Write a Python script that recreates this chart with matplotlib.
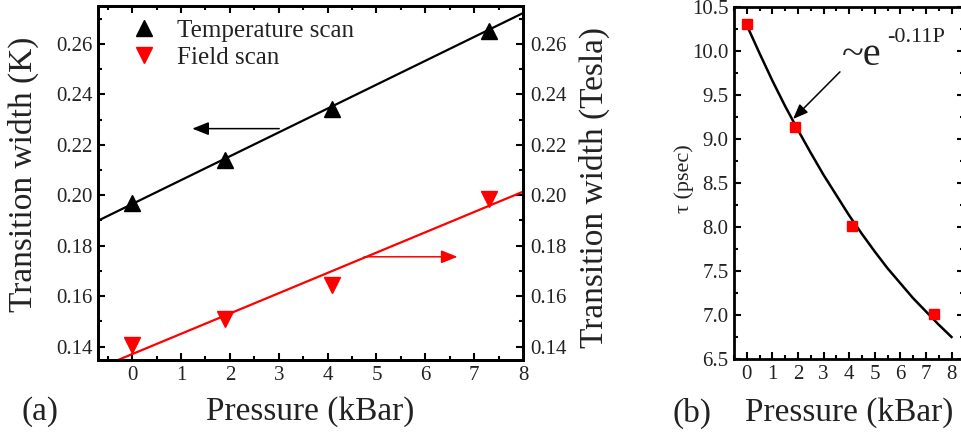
import matplotlib
matplotlib.use('Agg')
import matplotlib.pyplot as plt
from matplotlib.ticker import MultipleLocator

plt.rcParams['font.family'] = ['Liberation Serif', 'DejaVu Serif']
plt.rcParams['mathtext.fontset'] = 'stix'

txt_color = '#222222'

# panel (a) data
pressure = [0.0, 1.9, 4.1, 7.3]
temp_width = [0.197, 0.214, 0.234, 0.265]     # K
field_width = [0.1405, 0.1508, 0.1645, 0.1985]  # Tesla
# straight fit lines, end points
fit_x = [-0.7, 8.0]
temp_fit = [0.1899, 0.2722]
field_fit = [0.1314, 0.2014]

# panel (b) data
tau_p = [0.0, 1.9, 4.1, 7.3]
tau = [10.30, 9.13, 8.01, 7.01]
# fitted curve
curve_p = [0.0, 0.5, 1.0, 1.5, 2.0, 2.5, 3.0, 3.5, 4.0, 4.5, 5.0, 5.5, 6.0, 6.5, 7.0, 7.5, 8.0]
curve_tau = [10.29, 9.97, 9.66, 9.37, 9.10, 8.84, 8.59, 8.36, 8.13, 7.92, 7.72, 7.53, 7.36, 7.19, 7.04, 6.89, 6.75]

W, H = 961, 441
fig = plt.figure(figsize=(W / 100, H / 100), dpi=100)

def fx(px):
    return px / W

def fy(py):
    return 1 - py / H

def style_axis(ax, top=True, right=True):
    for s in ax.spines.values():
        s.set_linewidth(2)
    ax.tick_params(which='both', direction='in', top=top, right=right,
                   width=1.5, labelsize=15, labelcolor=txt_color, pad=4)
    ax.tick_params(which='major', length=5)
    ax.tick_params(which='minor', length=3)

# ---------------- panel (a) ----------------
ax = fig.add_axes([fx(98), fy(360), fx(523 - 98), (360 - 6) / H])
ax.plot(fit_x, temp_fit, color='black', lw=1.6)
ax.plot(pressure, temp_width, '^', color='black', ms=11, label='Temperature scan')
ax.set_xlim(-0.7, 8)
ax.set_ylim(0.1347, 0.275)
ax.xaxis.set_major_locator(MultipleLocator(1))
ax.xaxis.set_minor_locator(MultipleLocator(0.5))
ax.yaxis.set_major_locator(MultipleLocator(0.02))
ax.yaxis.set_minor_locator(MultipleLocator(0.01))
ax.yaxis.set_major_formatter(matplotlib.ticker.FormatStrFormatter('%.2f'))
style_axis(ax, top=True, right=False)
ax.set_xticks([0, 1, 2, 3, 4, 5, 6, 7])

ax2 = ax.twinx()
ax2.plot(fit_x, field_fit, color='red', lw=1.6)
ax2.plot(pressure, field_width, 'v', color='red', ms=11, label='Field scan')
ax2.set_ylim(0.1347, 0.275)
ax2.yaxis.set_major_locator(MultipleLocator(0.02))
ax2.yaxis.set_minor_locator(MultipleLocator(0.01))
ax2.yaxis.set_major_formatter(matplotlib.ticker.FormatStrFormatter('%.2f'))
style_axis(ax2, top=False, right=True)
ax2.tick_params(pad=5)

# the "8" tick label at the right end
fig.text(fx(523), fy(376), '8', ha='center', va='center', fontsize=15, color=txt_color)

# arrows telling which axis
ax.annotate('', xy=(1.23, 0.2264), xytext=(3.01, 0.2264),
            arrowprops=dict(arrowstyle='-|>,head_length=0.5,head_width=0.2',
                            color='black', lw=1.1, mutation_scale=20,
                            shrinkA=0, shrinkB=0))
ax.annotate('', xy=(6.66, 0.1756), xytext=(4.75, 0.1756),
            arrowprops=dict(arrowstyle='-|>,head_length=0.5,head_width=0.2',
                            color='red', lw=1.1, mutation_scale=20,
                            shrinkA=0, shrinkB=0))

h1, l1 = ax.get_legend_handles_labels()
h2, l2 = ax2.get_legend_handles_labels()
leg = ax2.legend(h1 + h2, l1 + l2, loc='upper left', bbox_to_anchor=(0.073, 0.962),
                 frameon=False, fontsize=18, handlelength=1.2, handletextpad=0.7,
                 labelspacing=0.18, borderpad=0, borderaxespad=0)
for t in leg.get_texts():
    t.set_color(txt_color)

fig.text(fx(23.5), fy(174.5), 'Transition width (K)', rotation=90,
         ha='center', va='center', fontsize=24, color=txt_color)
fig.text(fx(594.5), fy(187.5), 'Transition width (Tesla)', rotation=90,
         ha='center', va='center', fontsize=24, color=txt_color)
fig.text(fx(310), fy(412), 'Pressure (kBar)', ha='center', va='center',
         fontsize=24, color=txt_color)
fig.text(fx(40), fy(412), '(a)', ha='center', va='center', fontsize=24, color=txt_color)

# ---------------- panel (b) ----------------
bx = fig.add_axes([fx(734), fy(359), fx(964.3 - 734), (359 - 6.7) / H])
bx.plot(curve_p, curve_tau, color='black', lw=1.8)
bx.plot(tau_p, tau, 's', color='red', ms=7)
bx.set_xlim(-0.5, 8.5)
bx.set_ylim(6.5, 10.5)
bx.xaxis.set_major_locator(MultipleLocator(1))
bx.xaxis.set_minor_locator(MultipleLocator(0.5))
bx.yaxis.set_major_locator(MultipleLocator(0.5))
bx.yaxis.set_minor_locator(MultipleLocator(0.25))
bx.yaxis.set_major_formatter(matplotlib.ticker.FormatStrFormatter('%.1f'))
style_axis(bx, top=True, right=True)
bx.set_xticks([0, 1, 2, 3, 4, 5, 6, 7, 8])

bx.annotate('', xy=(1.81, 9.225), xytext=(3.64, 9.76),
            arrowprops=dict(arrowstyle='-|>,head_length=0.5,head_width=0.2',
                            color='black', lw=1.1, mutation_scale=18,
                            shrinkA=0, shrinkB=0))
fig.text(fx(842), fy(65), '~e', ha='left', va='baseline', fontsize=29, color=txt_color)
fig.text(fx(887), fy(42), '-0.11P', ha='left', va='baseline', fontsize=16, color=txt_color)

fig.text(fx(684), fy(179), '\u03c4 (psec)', rotation=90, ha='center', va='center',
         fontsize=16, color=txt_color)
fig.text(fx(849), fy(413), 'Pressure (kBar)', ha='center', va='center',
         fontsize=24, color=txt_color)
fig.text(fx(692), fy(413), '(b)', ha='center', va='center', fontsize=24, color=txt_color)

fig.savefig('out.png', dpi=100)
